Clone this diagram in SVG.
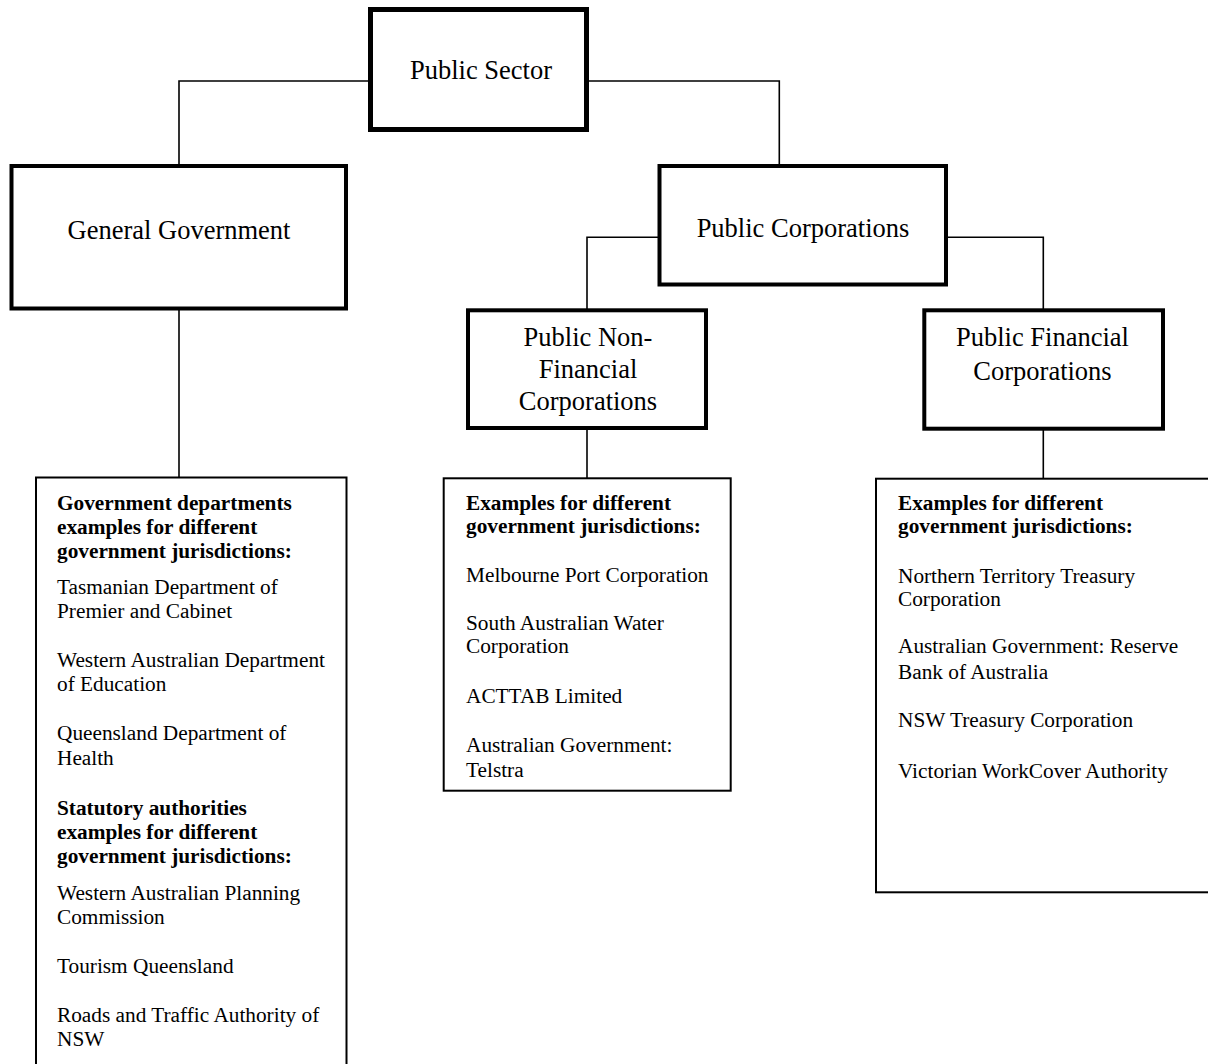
<svg xmlns="http://www.w3.org/2000/svg" width="1208" height="1064" viewBox="0 0 1208 1064">
<style>
  .node { fill: #ffffff; stroke: #000000; stroke-linejoin: miter; }
  .thick { stroke-width: 5; }
  .med { stroke-width: 4; }
  .thin { stroke-width: 2; }
  .conn { fill: none; stroke: #000000; stroke-width: 1.6; }
  .lbl { font-family: "Liberation Serif", "Times New Roman", serif; font-size: 26.5px; fill: #000000; text-anchor: middle; }
  .txt { font-family: "Liberation Serif", "Times New Roman", serif; font-size: 21.3px; fill: #000000; }
  .b { font-weight: bold; }
</style>
<rect width="1208" height="1064" fill="#ffffff"/>
<g id="connectors">
  <path class="conn" d="M370.5 81 H179 V166"/>
  <path class="conn" d="M586.5 81 H779.3 V166"/>
  <path class="conn" d="M659.5 237.3 H587 V310"/>
  <path class="conn" d="M945.5 237.3 H1043.3 V310"/>
  <path class="conn" d="M179 308 V478"/>
  <path class="conn" d="M587 428 V478"/>
  <path class="conn" d="M1043.3 428 V478"/>
</g>
<g id="public-sector">
  <rect class="node thick" x="370.5" y="9.5" width="216" height="120"/>
  <text class="lbl" x="481" y="79">Public Sector</text>
</g>
<g id="general-government">
  <rect class="node med" x="11.5" y="166" width="334.5" height="142.5"/>
  <text class="lbl" x="179" y="239">General Government</text>
</g>
<g id="public-corporations">
  <rect class="node med" x="659.5" y="166" width="286.5" height="118.5"/>
  <text class="lbl" x="803" y="237.3">Public Corporations</text>
</g>
<g id="public-non-financial-corporations">
  <rect class="node med" x="468" y="310.3" width="238" height="117.7"/>
  <text class="lbl" x="588" y="345.7">Public Non-</text>
  <text class="lbl" x="588" y="377.7">Financial</text>
  <text class="lbl" x="588" y="409.5">Corporations</text>
</g>
<g id="public-financial-corporations">
  <rect class="node med" x="924.3" y="310.3" width="238.7" height="118.4"/>
  <text class="lbl" x="1042.5" y="346">Public Financial</text>
  <text class="lbl" x="1042.5" y="380">Corporations</text>
</g>
<g id="general-government-examples">
  <rect class="node thin" x="36" y="477.5" width="310.5" height="620"/>
  <text class="txt b" x="57" y="510">Government departments</text>
  <text class="txt b" x="57" y="534">examples for different</text>
  <text class="txt b" x="57" y="558">government jurisdictions:</text>
  <text class="txt" x="57" y="594">Tasmanian Department of</text>
  <text class="txt" x="57" y="618">Premier and Cabinet</text>
  <text class="txt" x="57" y="667">Western Australian Department</text>
  <text class="txt" x="57" y="691">of Education</text>
  <text class="txt" x="57" y="740">Queensland Department of</text>
  <text class="txt" x="57" y="765">Health</text>
  <text class="txt b" x="57" y="815">Statutory authorities</text>
  <text class="txt b" x="57" y="839">examples for different</text>
  <text class="txt b" x="57" y="863">government jurisdictions:</text>
  <text class="txt" x="57" y="900">Western Australian Planning</text>
  <text class="txt" x="57" y="924">Commission</text>
  <text class="txt" x="57" y="973">Tourism Queensland</text>
  <text class="txt" x="57" y="1022">Roads and Traffic Authority of</text>
  <text class="txt" x="57" y="1046">NSW</text>
</g>
<g id="pnfc-examples">
  <rect class="node thin" x="443.7" y="478.3" width="287" height="312.4"/>
  <text class="txt b" x="466" y="510">Examples for different</text>
  <text class="txt b" x="466" y="533">government jurisdictions:</text>
  <text class="txt" x="466" y="582">Melbourne Port Corporation</text>
  <text class="txt" x="466" y="630">South Australian Water</text>
  <text class="txt" x="466" y="653">Corporation</text>
  <text class="txt" x="466" y="703">ACTTAB Limited</text>
  <text class="txt" x="466" y="752">Australian Government:</text>
  <text class="txt" x="466" y="777">Telstra</text>
</g>
<g id="pfc-examples">
  <rect class="node thin" x="876" y="478.7" width="340" height="413.6"/>
  <text class="txt b" x="898" y="510">Examples for different</text>
  <text class="txt b" x="898" y="533">government jurisdictions:</text>
  <text class="txt" x="898" y="583">Northern Territory Treasury</text>
  <text class="txt" x="898" y="606">Corporation</text>
  <text class="txt" x="898" y="653">Australian Government: Reserve</text>
  <text class="txt" x="898" y="679">Bank of Australia</text>
  <text class="txt" x="898" y="727">NSW Treasury Corporation</text>
  <text class="txt" x="898" y="778">Victorian WorkCover Authority</text>
</g>
</svg>
